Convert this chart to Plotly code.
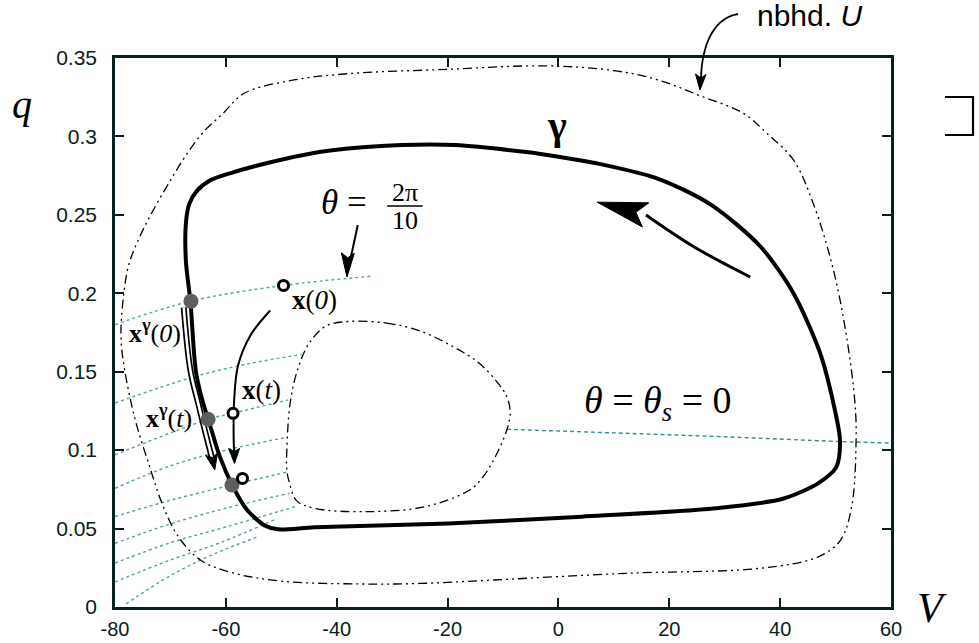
import plotly.graph_objects as go

# ---------------- data ----------------
V_RANGE = [-80, 60]
Q_RANGE = [0, 0.35]
V_TICKS = [-80, -60, -40, -20, 0, 20, 40, 60]
V_TICKTEXT = ["-80", "-60", "-40", "-20", "0", "20", "40", "60"]
Q_TICKS = [0, 0.05, 0.1, 0.15, 0.2, 0.25, 0.3, 0.35]
Q_TICKTEXT = ["0", "0.05", "0.1", "0.15", "0.2", "0.25", "0.3", "0.35"]

# limit cycle gamma, counter-clockwise starting at the theta = 0 crossing
cycle_V = [50.8, 49.6, 47.2, 42.4, 36.4, 27.3, 18.0, 8.0, 0.0, -5.8, -18.7, -28.3,
           -41.2, -50.2, -59.3, -62.8, -65.3, -66.6, -67.2, -67.2, -66.4, -65.4,
           -64.1, -63.2, -61.1, -58.9, -56.2, -53.0, -50.6, -44.0, -19.9, 4.2,
           28.4, 40.5, 46.9, 50.1, 50.8]
cycle_q = [0.106, 0.130, 0.162, 0.200, 0.230, 0.257, 0.273, 0.282, 0.287, 0.290,
           0.2945, 0.2945, 0.291, 0.285, 0.2765, 0.272, 0.265, 0.257, 0.245, 0.22,
           0.195, 0.15, 0.13, 0.12, 0.096, 0.078, 0.062, 0.052, 0.0495, 0.0508,
           0.0533, 0.0576, 0.063, 0.069, 0.079, 0.089, 0.106]

# neighbourhood U: outer boundary
u_out_V = [53.7, 53.5, 52.0, 49.6, 46.0, 42.4, 37.6, 33.4, 25.5, 18.0, 10.0, -2.5,
           -19.9, -38.0, -47.7, -56.7, -60.5, -64.0, -67.0, -70.0, -73.4, -75.8,
           -77.6, -78.7, -78.9, -78.2, -76.4, -73.8, -71.4, -68.6, -64.6, -59.0,
           -50.0, -36.0, -25.0, -11.9, 12.3, 36.4, 46.9, 50.9, 52.9, 53.7]
u_out_q = [0.106, 0.130, 0.172, 0.215, 0.257, 0.285, 0.302, 0.3147, 0.326, 0.336,
           0.342, 0.345, 0.3428, 0.340, 0.336, 0.3275, 0.3147, 0.303, 0.289, 0.272,
           0.251, 0.234, 0.217, 0.19, 0.17, 0.15, 0.12, 0.09, 0.065, 0.045, 0.030,
           0.022, 0.0165, 0.0147, 0.015, 0.0172, 0.0215, 0.0247, 0.032, 0.0427,
           0.064, 0.106]

# neighbourhood U: inner boundary
u_in_V = [-38.0, -31.0, -25.0, -19.0, -14.5, -11.2, -9.3, -8.7, -9.3, -11.5, -13.6,
          -16.0, -24.0, -34.4, -44.1, -47.3, -48.5, -49.0, -49.0, -48.4, -47.0,
          -45.0, -42.0, -38.0]
u_in_q = [0.182, 0.181, 0.176, 0.166, 0.156, 0.144, 0.134, 0.124, 0.113, 0.095,
          0.083, 0.0746, 0.064, 0.0608, 0.063, 0.068, 0.0789, 0.087, 0.1, 0.13,
          0.152, 0.168, 0.179, 0.182]

# isochrons (level sets of the phase)
iso0_V = [-9.3, 10.0, 30.0, 50.8, 60.0]
iso0_q = [0.1133, 0.111, 0.1085, 0.1055, 0.1045]
iso_V = [
    [-80, -66.3, -49.6, -33.4],
    [-80, -66.0, -56.0, -46.3],
    [-80, -63.2, -58.7, -48.8],
    [-80, -70.0, -60.0, -49.2],
    [-80, -70.0, -58.9, -49.0],
    [-80, -70.0, -60.0, -48.5],
    [-80, -70.0, -60.0, -47.5],
    [-80, -70.0, -61.0, -51.0],
    [-78, -70.0, -62.0, -54.0],
]
iso_q = [
    [0.180, 0.195, 0.205, 0.211],
    [0.130, 0.1465, 0.155, 0.161],
    [0.097, 0.1197, 0.1235, 0.132],
    [0.0757, 0.090, 0.100, 0.108],
    [0.0577, 0.068, 0.0778, 0.086],
    [0.0406, 0.053, 0.063, 0.0725],
    [0.028, 0.041, 0.051, 0.064],
    [0.016, 0.030, 0.041, 0.056],
    [0.002, 0.020, 0.034, 0.045],
]

# states on the cycle (filled) and perturbed states (open)
on_cycle_V = [-66.3, -63.2, -58.9]
on_cycle_q = [0.195, 0.1197, 0.0778]
perturbed_V = [-49.6, -58.7, -57.0]
perturbed_q = [0.205, 0.1235, 0.082]

# ---------------- geometry helpers ----------------
W, H = 979, 643
ML, MR, MT, MB = 115, 88, 58, 36
PW, PH = W - ML - MR, H - MT - MB
SX = PW / (V_RANGE[1] - V_RANGE[0])
SY = PH / (Q_RANGE[1] - Q_RANGE[0])


def to_px(v, q):
    return ML + (v - V_RANGE[0]) * SX, MT + PH - (q - Q_RANGE[0]) * SY


def to_data(x, y):
    return V_RANGE[0] + (x - ML) / SX, Q_RANGE[0] + (MT + PH - y) / SY


def to_paper(x, y):
    return (x - ML) / PW, (MT + PH - y) / PH


def head_poly(frm, tip, length, half):
    """Arrow head triangle (data coords) pointing from frm to tip."""
    x0, y0 = to_px(*frm)
    x1, y1 = to_px(*tip)
    d = ((x1 - x0) ** 2 + (y1 - y0) ** 2) ** 0.5
    ux, uy = (x1 - x0) / d, (y1 - y0) / d
    bx, by = x1 - ux * length, y1 - uy * length
    nx, ny = -uy, ux
    nb = (x1 - ux * length * 0.8, y1 - uy * length * 0.8)
    pts = [(x1, y1), (bx + nx * half, by + ny * half), nb,
           (bx - nx * half, by - ny * half), (x1, y1)]
    return [to_data(*p) for p in pts]


fig = go.Figure()

ISO_COL = "#4ea5a5"
# isochrons
fig.add_trace(go.Scatter(x=iso0_V, y=iso0_q, mode="lines", line_shape="spline",
                         line=dict(color="#2f8f8f", width=1.4, dash="4px,3px"),
                         hoverinfo="skip"))
for vs, qs in zip(iso_V, iso_q):
    fig.add_trace(go.Scatter(x=vs, y=qs, mode="lines", line_shape="spline",
                             line=dict(color=ISO_COL, width=1.4, dash="3px,3px"),
                             hoverinfo="skip"))

# neighbourhood boundaries
for vs, qs in ((u_out_V, u_out_q), (u_in_V, u_in_q)):
    fig.add_trace(go.Scatter(x=vs, y=qs, mode="lines", line_shape="spline",
                             line=dict(color="black", width=1.3,
                                       dash="9px,4px,2px,4px,2px,4px"),
                             hoverinfo="skip"))

# limit cycle
fig.add_trace(go.Scatter(x=cycle_V, y=cycle_q, mode="lines",
                         line=dict(color="black", width=4, shape="spline",
                                   smoothing=0.8),
                         hoverinfo="skip"))

# flow of x(0): single arrow
flow_V = [-52.0, -55.6, -57.8, -58.5, -58.6, -58.5]
flow_q = [0.189, 0.173, 0.154, 0.132, 0.11, 0.097]
fig.add_trace(go.Scatter(x=flow_V, y=flow_q, mode="lines", line_shape="spline",
                         line=dict(color="black", width=2), hoverinfo="skip"))

# flow of x^gamma(0): double-stroke arrow
dflow_V = [-67.6, -66.4, -65.0, -63.5, -62.3]
dflow_q = [0.191, 0.151, 0.130, 0.1086, 0.092]
fig.add_trace(go.Scatter(x=dflow_V, y=dflow_q, mode="lines", line_shape="spline",
                         line=dict(color="black", width=6), hoverinfo="skip"))
fig.add_trace(go.Scatter(x=dflow_V, y=dflow_q, mode="lines", line_shape="spline",
                         line=dict(color="white", width=2.6), hoverinfo="skip"))

# direction arrow on the cycle
dir_V = [34.6, 24.5, 15.8]
dir_q = [0.2104, 0.2295, 0.2499]
fig.add_trace(go.Scatter(x=dir_V, y=dir_q, mode="lines", line_shape="spline",
                         line=dict(color="black", width=3), hoverinfo="skip"))

# arrow pointing at the theta = 2pi/10 isochron
lab_V = [-36.2, -38.0]
lab_q = [0.2435, 0.214]
fig.add_trace(go.Scatter(x=lab_V, y=lab_q, mode="lines",
                         line=dict(color="black", width=2), hoverinfo="skip"))

heads = [
    head_poly((15.8, 0.2499), (7.0, 0.2581), 50, 12.5),
    head_poly((-38.0, 0.225), (-38.15, 0.2104), 24, 6.5),
    head_poly((-58.55, 0.11), (-58.45, 0.0915), 15, 5.5),
    head_poly((-63.2, 0.108), (-62.0, 0.0873), 16, 6),
]
for poly in heads:
    fig.add_trace(go.Scatter(x=[p[0] for p in poly], y=[p[1] for p in poly],
                             mode="lines", fill="toself", fillcolor="black",
                             line=dict(color="black", width=1), hoverinfo="skip"))

# states
fig.add_trace(go.Scatter(x=on_cycle_V, y=on_cycle_q, mode="markers",
                         marker=dict(size=15, color="#5e5e5e"), hoverinfo="skip"))
fig.add_trace(go.Scatter(x=perturbed_V, y=perturbed_q, mode="markers",
                         marker=dict(size=10, color="white",
                                     line=dict(color="black", width=3)),
                         hoverinfo="skip"))

SERIF = "Liberation Serif"
ann = []


def text_at(v, q, s, size, family=SERIF, ref="data", **kw):
    d = dict(x=v, y=q, text=s, showarrow=False,
             font=dict(family=family, size=size, color="black"),
             xanchor="center", yanchor="middle")
    if ref == "paper":
        d.update(xref="paper", yref="paper")
    d.update(kw)
    ann.append(d)


text_at(-0.3, 0.307, "<b>γ</b>", 40)
text_at(18.0, 0.130, "<i>θ</i> = <i>θ</i><sub><i>s</i></sub> = 0", 38)
text_at(-38.6, 0.258, "<i>θ</i> =", 35)
text_at(-27.7, 0.2645, "2π", 26)
text_at(-27.6, 0.2465, "10", 26)
text_at(-44.0, 0.1955, "<b>x</b>(<i>0</i>)", 27)
text_at(-72.8, 0.1755, "<b>x</b><sup><b>γ</b></sup>(<i>0</i>)", 26)
text_at(-53.6, 0.1385, "<b>x</b>(<i>t</i>)", 27)
text_at(-70.2, 0.1215, "<b>x</b><sup><b>γ</b></sup>(<i>t</i>)", 26)

px, py = to_paper(809, 16)
text_at(px, py, "nbhd. <i>U</i>", 30, family="Liberation Sans", ref="paper")
px, py = to_paper(22, 104)
text_at(px, py, "<i>q</i>", 40, ref="paper")
px, py = to_paper(932, 608)
text_at(px, py, "<i>V</i>", 42, ref="paper")

shapes = []
# fraction bar of 2pi/10
shapes.append(dict(type="line", xref="x", yref="y", x0=-30.9, x1=-24.5,
                   y0=0.2557, y1=0.2557, line=dict(color="black", width=1.5)))


def paper_path(pts, close=False):
    s = ""
    for i, (x, y) in enumerate(pts):
        a, b = to_paper(x, y)
        s += ("M" if i == 0 else "L") + f"{a:.5f},{b:.5f} "
    return s + ("Z" if close else "")


# curved arrow from the U label
curve = []
for i in range(21):
    t = i / 20
    p0, p1, p2, p3 = (738, 14), (714, 18), (702, 44), (701, 78)
    x = (1 - t) ** 3 * p0[0] + 3 * (1 - t) ** 2 * t * p1[0] + 3 * (1 - t) * t ** 2 * p2[0] + t ** 3 * p3[0]
    y = (1 - t) ** 3 * p0[1] + 3 * (1 - t) ** 2 * t * p1[1] + 3 * (1 - t) * t ** 2 * p2[1] + t ** 3 * p3[1]
    curve.append((x, y))
shapes.append(dict(type="path", xref="paper", yref="paper", path=paper_path(curve),
                   line=dict(color="black", width=1.8)))
shapes.append(dict(type="path", xref="paper", yref="paper",
                   path=paper_path([(700, 90), (695.5, 74), (701, 78), (706, 74.5)], True),
                   fillcolor="black", line=dict(color="black", width=1)))
# bracket on the right margin
shapes.append(dict(type="path", xref="paper", yref="paper",
                   path=paper_path([(945, 97), (973, 97), (973, 135), (945, 135)]),
                   line=dict(color="black", width=2.2)))

AX_COL = "#062020"
axis_common = dict(showgrid=False, zeroline=False, showline=True, mirror="ticks",
                   linecolor=AX_COL, linewidth=2.5, ticks="inside", ticklen=9,
                   tickwidth=2, tickcolor=AX_COL, automargin=False)

fig.update_layout(
    width=W, height=H, margin=dict(l=ML, r=MR, t=MT, b=MB, pad=0),
    paper_bgcolor="white", plot_bgcolor="white", showlegend=False,
    xaxis=dict(range=V_RANGE, tickvals=V_TICKS, ticktext=V_TICKTEXT,
               ticklabelstandoff=2,
               tickfont=dict(family="Liberation Sans", size=20, color=AX_COL),
               **axis_common),
    yaxis=dict(range=Q_RANGE, tickvals=Q_TICKS, ticktext=Q_TICKTEXT,
               ticklabelstandoff=11,
               tickfont=dict(family="Liberation Sans", size=21, color=AX_COL),
               **axis_common),
    annotations=ann, shapes=shapes,
)

fig.write_html("out.html")
